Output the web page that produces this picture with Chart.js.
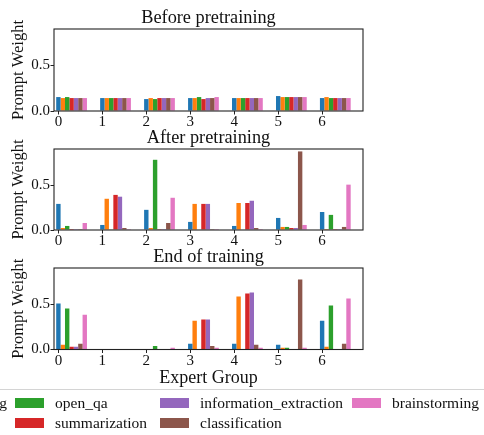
<!DOCTYPE html>
<html><head><meta charset="utf-8">
<script src="https://cdn.jsdelivr.net/npm/chart.js@4.4.1/dist/chart.umd.min.js"></script>
<style>
html,body{margin:0;padding:0;background:#fff;}
#wrap{position:relative;width:484px;height:435px;overflow:hidden;background:#fff;}
#wrap canvas{position:absolute;left:0;}
#legendFrame{position:absolute;left:-150px;top:389px;width:645px;height:70px;border:1px solid #d4d4d4;border-radius:4px;}
.item{position:absolute;display:flex;align-items:center;white-space:nowrap;height:20px;font-family:"Liberation Serif",serif;font-size:15.5px;color:#111;}
.sw{width:29px;height:10px;margin-right:11px;flex:none;}
</style></head><body>
<div id="wrap">
<canvas id="c0"></canvas><canvas id="c1"></canvas><canvas id="c2"></canvas>
<div id="legendFrame"></div>
</div>
<script>
// ---------- data ----------
const expertGroups = [0, 1, 2, 3, 4, 5, 6];
const yTicks = [0, 0.5];
const seriesNames = ['creative_writing', 'closed_qa', 'open_qa', 'summarization', 'information_extraction', 'classification', 'brainstorming'];
const seriesColors = ['#1f77b4', '#ff7f0e', '#2ca02c', '#d62728', '#9467bd', '#8c564b', '#e377c2'];
const panelTitles = ['Before pretraining', 'After pretraining', 'End of training'];
const xAxisTitle = 'Expert Group';
const yAxisTitle = 'Prompt Weight';

// rows follow seriesNames order, columns follow expertGroups
const beforePretraining = [
  [0.153, 0.142, 0.131, 0.142, 0.142, 0.164, 0.142],
  [0.142, 0.142, 0.142, 0.142, 0.142, 0.153, 0.153],
  [0.153, 0.142, 0.131, 0.153, 0.142, 0.153, 0.142],
  [0.142, 0.142, 0.142, 0.131, 0.142, 0.153, 0.142],
  [0.142, 0.142, 0.142, 0.142, 0.142, 0.153, 0.142],
  [0.142, 0.142, 0.142, 0.142, 0.142, 0.153, 0.142],
  [0.142, 0.142, 0.142, 0.153, 0.142, 0.153, 0.142]
];
const afterPretraining = [
  [0.290, 0.056, 0.224, 0.090, 0.045, 0.134, 0.200],
  [0.022, 0.347, 0.022, 0.290, 0.300, 0.034, 0.011],
  [0.045, 0.004, 0.780, 0.005, 0.005, 0.034, 0.168],
  [0.011, 0.390, 0.010, 0.290, 0.300, 0.022, 0.010],
  [0.010, 0.370, 0.010, 0.290, 0.325, 0.022, 0.010],
  [0.010, 0.022, 0.078, 0.010, 0.022, 0.873, 0.034],
  [0.078, 0.010, 0.358, 0.010, 0.010, 0.056, 0.504]
];
const endOfTraining = [
  [0.507, 0.005, 0.005, 0.063, 0.063, 0.052, 0.318],
  [0.052, 0.005, 0.005, 0.318, 0.585, 0.018, 0.030],
  [0.452, 0.005, 0.040, 0.005, 0.005, 0.018, 0.485],
  [0.030, 0.005, 0.005, 0.330, 0.618, 0.005, 0.005],
  [0.030, 0.005, 0.005, 0.330, 0.630, 0.005, 0.005],
  [0.063, 0.005, 0.005, 0.040, 0.052, 0.774, 0.063],
  [0.385, 0.005, 0.018, 0.018, 0.018, 0.018, 0.563]
];
const panelData = [beforePretraining, afterPretraining, endOfTraining];

// ---------- layout ----------
const X_MIN = -0.1, X_MAX = 6.93;      // visible axis range (tick units)
const GROUP_SHIFT = 0.3;               // first bar sits on the tick
const Y_MIN = 0, Y_MAX = 0.9;
const AREA_LEFT = 54, AREA_RIGHT = 363;
const areaTops = [29.3, 149, 267.7];
const areaBottoms = [111, 230, 348.7];
const TOP_SPACE = 30;
const bottomSpace = [20, 20, 41.5];
const INK = '#111';
const TITLE_SIZE = 18.3;

const framePlugin = {
  id: 'frame',
  afterLayout(chart) {
    // center the panel title over the plotting area (as matplotlib does)
    const t = chart.titleBlock, a = chart.chartArea;
    if (t && a) { t.left = a.left; t.right = a.right; t.width = a.right - a.left; }
  },
  afterDatasetsDraw(chart) {
    const a = chart.chartArea, ctx = chart.ctx;
    ctx.save();
    ctx.strokeStyle = '#222';
    ctx.lineWidth = 1.1;
    ctx.strokeRect(a.left, a.top, a.right - a.left, a.bottom - a.top);
    ctx.restore();
  }
};

panelData.forEach((rows, p) => {
  const cv = document.getElementById('c' + p);
  const h = (areaBottoms[p] - areaTops[p]) + TOP_SPACE + bottomSpace[p];
  cv.width = 484; cv.height = Math.round(h);
  cv.style.width = '484px'; cv.style.height = Math.round(h) + 'px';
  cv.style.top = (areaTops[p] - TOP_SPACE) + 'px';

  const datasets = rows.map((vals, s) => ({
    label: seriesNames[s],
    data: expertGroups.map((g, i) => ({ x: g, y: vals[i] })),
    backgroundColor: seriesColors[s],
    borderWidth: 0,
    xAxisID: 'xb',
    yAxisID: 'y',
    categoryPercentage: 0.7,
    barPercentage: 1.0
  }));

  const isLast = p === panelData.length - 1;
  new Chart(cv, {
    type: 'bar',
    data: { datasets },
    plugins: [framePlugin],
    options: {
      responsive: false,
      animation: false,
      devicePixelRatio: 1,
      layout: { padding: { left: 0, right: 484 - AREA_RIGHT, top: 0, bottom: 0 } },
      plugins: {
        legend: { display: false },
        tooltip: { enabled: false },
        title: {
          display: true,
          text: panelTitles[p],
          color: INK,
          font: { family: 'Liberation Serif', size: TITLE_SIZE, weight: 'normal', lineHeight: 1.2 },
          padding: { top: TOP_SPACE - TITLE_SIZE * 1.2, bottom: 0 }
        }
      },
      scales: {
        xb: {
          type: 'linear',
          display: false,
          offset: false,
          grid: { offset: false },
          min: X_MIN - GROUP_SHIFT,
          max: X_MAX - GROUP_SHIFT,
          afterBuildTicks: (s) => { s.ticks = expertGroups.map(v => ({ value: v })); }
        },
        x: {
          type: 'linear',
          position: 'bottom',
          offset: false,
          min: X_MIN,
          max: X_MAX,
          afterBuildTicks: (s) => { s.ticks = expertGroups.map(v => ({ value: v })); },
          afterFit: (s) => { s.height = bottomSpace[p]; },
          border: { display: false },
          grid: { display: true, offset: false, drawOnChartArea: false, drawTicks: true, tickLength: 3.5, tickColor: '#222', lineWidth: 1 },
          ticks: {
            color: INK, padding: 0.5, maxRotation: 0, autoSkip: false,
            font: { family: 'Liberation Serif', size: 15, lineHeight: 1 },
            callback: (v) => String(v)
          },
          title: {
            display: isLast,
            text: xAxisTitle,
            color: INK,
            font: { family: 'Liberation Serif', size: 18, lineHeight: 1.2 },
            padding: { top: 0, bottom: 2 }
          }
        },
        y: {
          type: 'linear',
          position: 'left',
          min: Y_MIN,
          max: Y_MAX,
          afterBuildTicks: (s) => { s.ticks = yTicks.map(v => ({ value: v })); },
          afterFit: (s) => { s.width = AREA_LEFT; },
          border: { display: false },
          grid: { display: true, drawOnChartArea: false, drawTicks: true, tickLength: 3.5, tickColor: '#222', lineWidth: 1 },
          ticks: {
            color: INK, padding: 0.5,
            font: { family: 'Liberation Serif', size: 15, lineHeight: 1 },
            callback: (v) => Number(v).toFixed(1)
          },
          title: {
            display: true,
            text: yAxisTitle,
            color: INK,
            font: { family: 'Liberation Serif', size: 16.5, lineHeight: 1.2 },
            padding: { top: 9, bottom: 0 }
          }
        }
      }
    }
  });
});

// ---------- legend (column-major, 2 rows, partly outside the figure like the source) ----------
const legendColLefts = [-134.5, 15, 160, 352];
const legendRowCenters = [403, 423];
const wrap = document.getElementById('wrap');
seriesNames.forEach((name, i) => {
  const col = Math.floor(i / 2), row = i % 2;
  const it = document.createElement('div');
  it.className = 'item';
  it.style.left = legendColLefts[col] + 'px';
  it.style.top = (legendRowCenters[row] - 10) + 'px';
  const sw = document.createElement('span');
  sw.className = 'sw';
  sw.style.background = seriesColors[i];
  const tx = document.createElement('span');
  tx.textContent = name;
  it.appendChild(sw); it.appendChild(tx);
  wrap.appendChild(it);
});
</script>
</body></html>
